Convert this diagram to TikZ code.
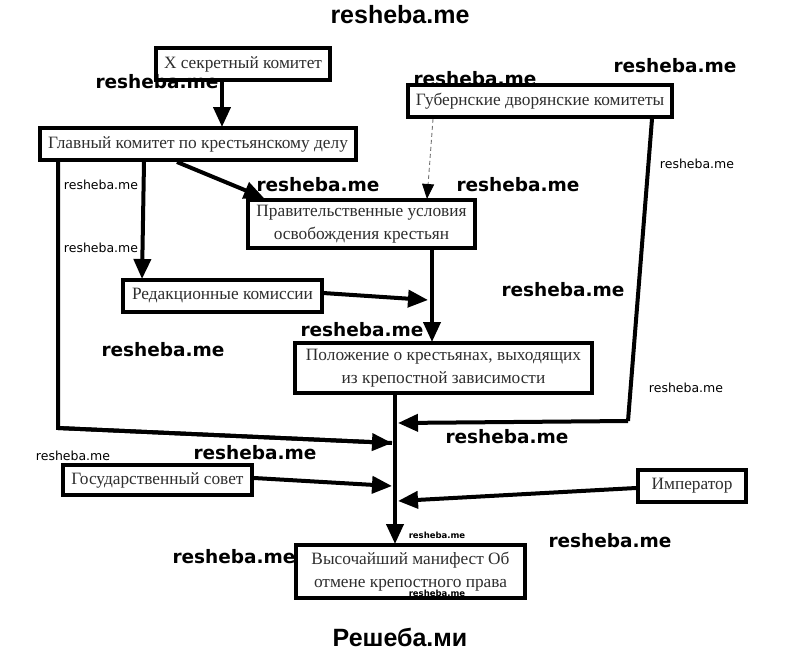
\documentclass[tikz,border=0pt]{standalone}
\usepackage{fontspec}
\setmainfont{Liberation Serif}
\newfontfamily\wmfont{DejaVu Sans}
\newfontfamily\lsfont{Liberation Sans}
\usetikzlibrary{arrows.meta}
\definecolor{boxtext}{HTML}{2E2E2E}
\tikzset{
  box/.style={draw=black, line width=4.2pt, fill=white, inner sep=0pt, align=center,
    text=boxtext, font=\fontsize{17.3}{23}\selectfont},
  arr/.style={line width=4pt, -{Triangle[length=20pt,width=17pt]}},
  lin/.style={line width=4pt},
  dsh/.style={draw=black!55, line width=0.9pt, dash pattern=on 4pt off 3pt,
    -{Triangle[length=15pt,width=12pt,black]}},
  wmb/.style={font=\wmfont\bfseries\fontsize{18.5}{20}\selectfont, inner sep=0pt},
  wms/.style={font=\wmfont\fontsize{12.5}{14}\selectfont, inner sep=0pt},
  wmt/.style={font=\wmfont\bfseries\fontsize{8.5}{10}\selectfont, inner sep=0pt},
  wmbig/.style={font=\lsfont\bfseries\fontsize{25}{28}\selectfont, inner sep=0pt}
}
\begin{document}
\begin{tikzpicture}[x=1pt,y=-1pt]
\useasboundingbox (0,0) rectangle (800,653);

% boxes
\node[box, minimum width=174pt, minimum height=32pt] (sec) at (243,64) {Х секретный комитет};
\node[box, minimum width=316pt, minimum height=32pt] (glav) at (198,144) {Главный комитет по крестьянскому делу};
\node[box, minimum width=264pt, minimum height=32pt] (gub) at (540,101) {Губернские дворянские комитеты};
\node[box, minimum width=227pt, minimum height=48pt] (prav) at (361.5,224) {Правительственные условия\\освобождения крестьян};
\node[box, minimum width=199pt, minimum height=32pt] (red) at (222.5,296) {Редакционные комиссии};
\node[box, minimum width=297pt, minimum height=50pt] (pol) at (443.5,368) {Положение о крестьянах, выходящих\\из крепостной зависимости};
\node[box, minimum width=189pt, minimum height=30pt] (gos) at (157.5,480) {Государственный совет};
\node[box, minimum width=108pt, minimum height=32pt] (imp) at (692,486) {Император};
\node[box, minimum width=229pt, minimum height=53pt] (vys) at (410.5,571.5) {Высочайший манифест Об\\отмене крепостного права};

% coordinates
\coordinate (secout) at (222,82);
\coordinate (glavin) at (222,127);
\coordinate (gA) at (177,162);
\coordinate (gB) at (144,162);
\coordinate (gC) at (58,162);
\coordinate (gCb) at (58,428);
\coordinate (pravin) at (264,198);
\coordinate (redin) at (142,279);
\coordinate (gubA) at (433,119);
\coordinate (pravtop) at (427,199);
\coordinate (gubB) at (652,119);
\coordinate (gubBb) at (628,421);
\coordinate (pravout) at (432,250);
\coordinate (polin) at (432,342);
\coordinate (redout) at (323,293);
\coordinate (jE) at (428,300);
\coordinate (polout) at (395,395);
\coordinate (vysin) at (395,544);
\coordinate (jA) at (392,443);
\coordinate (jB) at (398,423);
\coordinate (gosout) at (254,478);
\coordinate (jC) at (392,486);
\coordinate (impout) at (636,488);
\coordinate (jD) at (398,501);

% connectors
\draw[arr] (secout) -- (glavin);
\draw[arr] (gA) -- (pravin);
\draw[arr] (gB) -- (redin);
\draw[lin, line join=miter] (gC) -- (gCb) -- (jA);
\draw[arr] (gCb) -- (jA);
\draw[dsh] (gubA) -- (pravtop);
\draw[lin] (gubB) -- (gubBb);
\draw[arr] (gubBb) -- (jB);
\draw[arr] (pravout) -- (polin);
\draw[arr] (redout) -- (jE);
\draw[arr] (polout) -- (vysin);
\draw[arr] (gosout) -- (jC);
\draw[arr] (impout) -- (jD);

% watermarks
\node[wmbig] (w0) at (400,15) {resheba.me};
\node[wmb] (w1) at (157,82) {resheba.me};
\node[wmb] (w2) at (475,79) {resheba.me};
\node[wmb] (w3) at (675,66) {resheba.me};
\node[wmb] (w4) at (318,185) {resheba.me};
\node[wmb] (w5) at (518,185) {resheba.me};
\node[wmb] (w6) at (563,290) {resheba.me};
\node[wmb] (w7) at (362,330) {resheba.me};
\node[wmb] (w8) at (163,350) {resheba.me};
\node[wmb] (w9) at (507,437) {resheba.me};
\node[wmb] (w10) at (255,453) {resheba.me};
\node[wmb] (w11) at (610,541) {resheba.me};
\node[wmb] (w12) at (234,557) {resheba.me};
\node[wmt] (w13) at (437,535) {resheba.me};
\node[wmt] (w14) at (437,593) {resheba.me};
\node[wms] (w15) at (101,185) {resheba.me};
\node[wms] (w16) at (101,248) {resheba.me};
\node[wms] (w17) at (697,164) {resheba.me};
\node[wms] (w18) at (686,388) {resheba.me};
\node[wms] (w19) at (73,456) {resheba.me};
\node[wmbig] (w20) at (400,637) {Решеба.ми};
\end{tikzpicture}
\end{document}
